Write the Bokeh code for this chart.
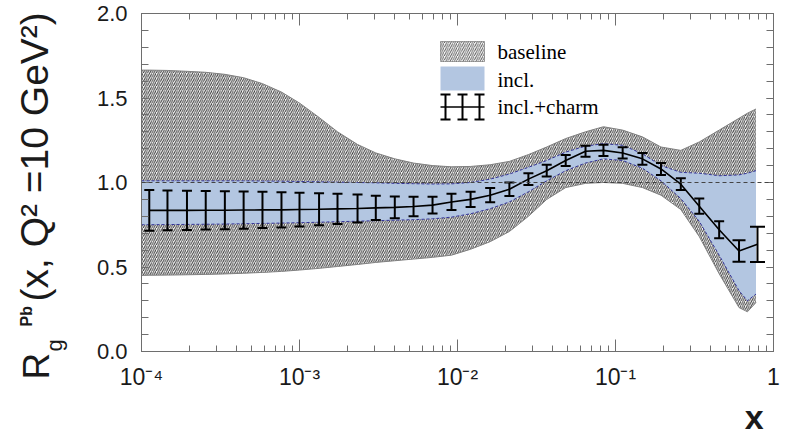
import numpy as np
from bokeh.plotting import figure
from bokeh.layouts import row, column
from bokeh.models import (LogAxis, LinearAxis, FixedTicker, SingleIntervalTicker, Label,
                          BoxAnnotation, Range1d, CustomJSTickFormatter, PrintfTickFormatter, Span)
from bokeh.core.properties import value
from bokeh.embed import file_html
from bokeh.resources import INLINE

# ---------------- data ----------------
bar_x = [1.12e-4, 1.46e-4, 1.94e-4, 2.55e-4, 3.37e-4, 4.43e-4, 5.83e-4, 7.69e-4,
         1.0e-3, 1.33e-3, 1.74e-3, 2.33e-3, 3.04e-3, 4.01e-3, 5.27e-3, 6.95e-3,
         9.16e-3, 1.21e-2, 1.61e-2, 2.13e-2, 2.81e-2, 3.67e-2, 4.84e-2, 6.46e-2,
         8.39e-2, 0.111, 0.148, 0.194, 0.259, 0.339, 0.453, 0.605, 0.792]
charm_mid = [0.835, 0.835, 0.835, 0.836, 0.836, 0.837, 0.838, 0.838,
             0.840, 0.842, 0.844, 0.846, 0.850, 0.853, 0.858, 0.866,
             0.885, 0.900, 0.925, 0.960, 1.020, 1.070, 1.130, 1.185,
             1.190, 1.175, 1.140, 1.080, 0.990, 0.860, 0.720, 0.595, 0.634]
charm_err = [0.120, 0.118, 0.116, 0.114, 0.112, 0.110, 0.107, 0.104,
             0.100, 0.095, 0.090, 0.083, 0.072, 0.064, 0.057, 0.050,
             0.048, 0.045, 0.042, 0.040, 0.035, 0.035, 0.033, 0.033,
             0.033, 0.033, 0.035, 0.035, 0.035, 0.045, 0.050, 0.064, 0.104]

band_x = [1.0e-4, 1.12e-4, 1.46e-4, 1.94e-4, 2.55e-4, 3.37e-4, 4.43e-4, 5.83e-4, 7.69e-4,
          1.0e-3, 1.33e-3, 1.74e-3, 2.33e-3, 3.04e-3, 4.01e-3, 5.27e-3, 6.95e-3,
          9.16e-3, 1.21e-2, 1.61e-2, 2.13e-2, 2.81e-2, 3.67e-2, 4.84e-2, 6.46e-2,
          8.39e-2, 0.111, 0.148, 0.194, 0.259, 0.339, 0.453, 0.605, 0.684, 0.775]
base_hi = [1.665, 1.665, 1.663, 1.658, 1.652, 1.640, 1.620, 1.585, 1.535,
           1.470, 1.385, 1.300, 1.225, 1.175, 1.140, 1.115, 1.100,
           1.093, 1.095, 1.105, 1.125, 1.165, 1.210, 1.260, 1.300,
           1.330, 1.310, 1.270, 1.210, 1.190, 1.240, 1.310, 1.380, 1.410, 1.435]
base_lo = [0.450, 0.451, 0.452, 0.454, 0.456, 0.459, 0.463, 0.468, 0.474,
           0.482, 0.492, 0.503, 0.515, 0.527, 0.537, 0.547, 0.557,
           0.570, 0.605, 0.650, 0.710, 0.800, 0.900, 0.970, 0.995,
           1.000, 0.995, 0.970, 0.925, 0.840, 0.680, 0.460, 0.260, 0.235, 0.290]
incl_hi = [1.010, 1.010, 1.010, 1.010, 1.010, 1.010, 1.010, 1.009, 1.008,
           1.006, 1.004, 1.002, 1.000, 0.998, 0.995, 0.993, 0.991,
           0.992, 1.000, 1.020, 1.050, 1.090, 1.130, 1.180, 1.215,
           1.230, 1.220, 1.170, 1.100, 1.060, 1.055, 1.040, 1.045, 1.055, 1.070]
incl_lo = [0.750, 0.750, 0.751, 0.752, 0.753, 0.754, 0.756, 0.758, 0.760,
           0.762, 0.765, 0.768, 0.771, 0.774, 0.777, 0.780, 0.785,
           0.795, 0.815, 0.845, 0.885, 0.945, 1.010, 1.070, 1.115,
           1.140, 1.130, 1.085, 1.010, 0.905, 0.770, 0.570, 0.360, 0.300, 0.340]

x_ticks = [1e-4, 1e-3, 1e-2, 1e-1, 1.0]
x_tick_labels = ["10\u207b\u2074", "10\u207b\u00b3", "10\u207b\u00b2", "10\u207b\u00b9", "1"]
legend_labels = ["baseline", "incl.", "incl.+charm"]
y_title = ["R", "g", "Pb", "(x, Q\u00b2 =10 GeV\u00b2)"]
x_title = "x"

# ---------------- layout (page pixels; page = canvas + (OX, OY)) ----------------
OX, OY = 3, 2
LEFT_W = 70
FL, FR, FT, FB = 144, 776, 15, 353
MAIN_W, MAIN_H = 711, 394
BOT_H = 42


def px2x(px):
    return 10 ** (-4 + 4 * (px - FL) / (FR - FL))


def py2y(py):
    return 2.0 * (FB - py) / (FB - FT)


BLUE = "#b3c6e1"
EDGE_BLUE = "#34349a"
AX = "#6e6e6e"
INK = "#1a1a1a"

main_x0 = OX + LEFT_W
p = figure(width=MAIN_W, height=MAIN_H, x_axis_type="log",
           x_range=Range1d(1e-4, 1.0), y_range=Range1d(0, 2),
           output_backend="svg", toolbar_location=None,
           min_border_left=FL - main_x0, min_border_right=main_x0 + MAIN_W - FR,
           min_border_top=FT - OY, min_border_bottom=OY + MAIN_H - FB)
p.xgrid.visible = False
p.ygrid.visible = False
p.outline_line_color = AX
p.background_fill_color = "white"
p.border_fill_color = "white"

minor_x = [m * 10.0 ** e for e in range(-4, 0) for m in range(2, 10)]
xt = FixedTicker(ticks=x_ticks, minor_ticks=minor_x)
fmt = CustomJSTickFormatter(args=dict(labels=x_tick_labels),
                            code="return labels[Math.round(Math.log10(tick)) + 4];")
xa = p.xaxis[0]
xa.ticker = xt
xa.formatter = fmt
ya = p.yaxis[0]
ya.ticker = SingleIntervalTicker(interval=0.5, num_minor_ticks=5)
ya.formatter = PrintfTickFormatter(format="%.1f")

for ax in (xa, ya):
    ax.axis_line_color = AX
    ax.major_tick_line_color = AX
    ax.minor_tick_line_color = AX
    ax.major_tick_out = 0
    ax.minor_tick_out = 0
    ax.major_label_text_font = "Liberation Sans"
    ax.major_label_text_color = INK
xa.major_label_text_font_size = "23px"
ya.major_label_text_font_size = "22px"
xa.major_label_standoff = 12
ya.major_label_standoff = 14
xa.major_tick_in = 12
xa.minor_tick_in = 6
ya.major_tick_in = 7
ya.minor_tick_in = 7

top = LogAxis(ticker=xt, formatter=CustomJSTickFormatter(code="return '';"),
              major_label_standoff=0, axis_line_color=AX, major_tick_line_color=AX,
              minor_tick_line_color=AX, major_tick_out=0, minor_tick_out=0,
              major_tick_in=12, minor_tick_in=6)
p.add_layout(top, "above")
right = LinearAxis(ticker=SingleIntervalTicker(interval=0.5, num_minor_ticks=5),
                   formatter=CustomJSTickFormatter(code="return '';"),
                   major_label_standoff=0, axis_line_color=AX, major_tick_line_color=AX,
                   minor_tick_line_color=AX, major_tick_out=0, minor_tick_out=0,
                   major_tick_in=7, minor_tick_in=7)
p.add_layout(right, "right")

# ---------------- bands ----------------
p.varea(x=band_x, y1=base_lo, y2=base_hi, fill_color="white",
        hatch_pattern="/", hatch_scale=4.3, hatch_weight=1.0, hatch_color="#3a3a3a")
p.line(band_x, base_hi, line_color="#808080", line_width=1)
p.line(band_x, base_lo, line_color="#808080", line_width=1)

p.varea(x=band_x, y1=incl_lo, y2=incl_hi, fill_color=BLUE, fill_alpha=1.0)
p.line(band_x, incl_hi, line_color=EDGE_BLUE, line_width=1, line_dash="3 2")
p.line(band_x, incl_lo, line_color=EDGE_BLUE, line_width=1, line_dash="3 2")

p.add_layout(Span(location=1.0, dimension="width", line_color="#444444",
                  line_width=1, line_dash="4 3"))

# ---------------- incl.+charm error bars ----------------
mid = np.array(charm_mid)
err = np.array(charm_err)
hi = mid + err
lo = mid - err
caps = [10] * (len(bar_x) - 2) + [13, 15]
p.line(bar_x, charm_mid, line_color="black", line_width=1.6)
p.segment(x0=bar_x, y0=lo, x1=bar_x, y1=hi, line_color="black", line_width=2)
p.scatter(bar_x, hi, marker="dash", size=caps, line_color="black", line_width=2)
p.scatter(bar_x, lo, marker="dash", size=caps, line_color="black", line_width=2)

# ---------------- legend (drawn by hand) ----------------
lx0, lx1 = px2x(443), px2x(487)
p.add_layout(BoxAnnotation(left=lx0, right=lx1, bottom=py2y(63), top=py2y(43),
                           fill_color="white", fill_alpha=1.0, hatch_pattern="/",
                           hatch_scale=4.3, hatch_weight=0.9, hatch_color="#555555",
                           line_color="black", line_width=1, level="overlay"))
p.add_layout(BoxAnnotation(left=lx0, right=lx1, bottom=py2y(92), top=py2y(68),
                           fill_color=BLUE, fill_alpha=1.0, line_color=None, level="overlay"))
icon_x = [px2x(448), px2x(465), px2x(482)]
p.segment(x0=[lx0], y0=[py2y(108.5)], x1=[lx1], y1=[py2y(108.5)], line_color="black", line_width=1.6)
p.segment(x0=icon_x, y0=[py2y(96)] * 3, x1=icon_x, y1=[py2y(121)] * 3, line_color="black", line_width=2)
p.scatter(icon_x, [py2y(96)] * 3, marker="dash", size=10, line_color="black", line_width=2)
p.scatter(icon_x, [py2y(121)] * 3, marker="dash", size=10, line_color="black", line_width=2)
for lab, yc in zip(legend_labels, [53, 81.5, 108]):
    p.add_layout(Label(x=px2x(500), y=py2y(yc), text=lab, text_font="Liberation Serif",
                       text_font_size="21px", text_baseline="middle", text_color="black"))


def text_strip(w, h, x0, y0):
    """A bare figure whose data coordinates are page pixels (y downwards)."""
    f = figure(width=w, height=h, x_range=Range1d(x0, x0 + w), y_range=Range1d(y0 + h, y0),
               output_backend="svg", toolbar_location=None,
               x_axis_location=None, y_axis_location=None, min_border=0)
    f.xgrid.visible = False
    f.ygrid.visible = False
    f.outline_line_color = None
    f.background_fill_color = "white"
    f.border_fill_color = "white"
    return f


# ---------------- y title (rotated, with sub/superscripts) ----------------
yl = text_strip(LEFT_W, MAIN_H + BOT_H, OX, OY)
rot = np.pi / 2
common = dict(angle=rot, text_font=value("Liberation Sans"), text_baseline=value("middle"),
              text_align=value("left"), text_color=INK)
yl.text(x=[39], y=[381], text=[y_title[0]], text_font_size=value("37px"), **common)
yl.text(x=[57], y=[353], text=[y_title[1]], text_font_size=value("22px"), **common)
yl.text(x=[29], y=[328], text=[y_title[2]], text_font_size=value("16px"),
        text_font_style=value("bold"), **common)
yl.text(x=[37], y=[303], text=[y_title[3]], text_font_size=value("39px"), **common)

# ---------------- x title (bottom right) ----------------
xl = text_strip(MAIN_W, BOT_H, main_x0, OY + MAIN_H)
xl.text(x=[773], y=[418], text=[x_title], text_align=value("right"),
        text_font=value("Liberation Sans"), text_font_style=value("bold"),
        text_font_size=value("34px"), text_baseline=value("middle"), text_color=INK)

layout = row(yl, column(p, xl))
open("out.html", "w").write(file_html(layout, INLINE))
